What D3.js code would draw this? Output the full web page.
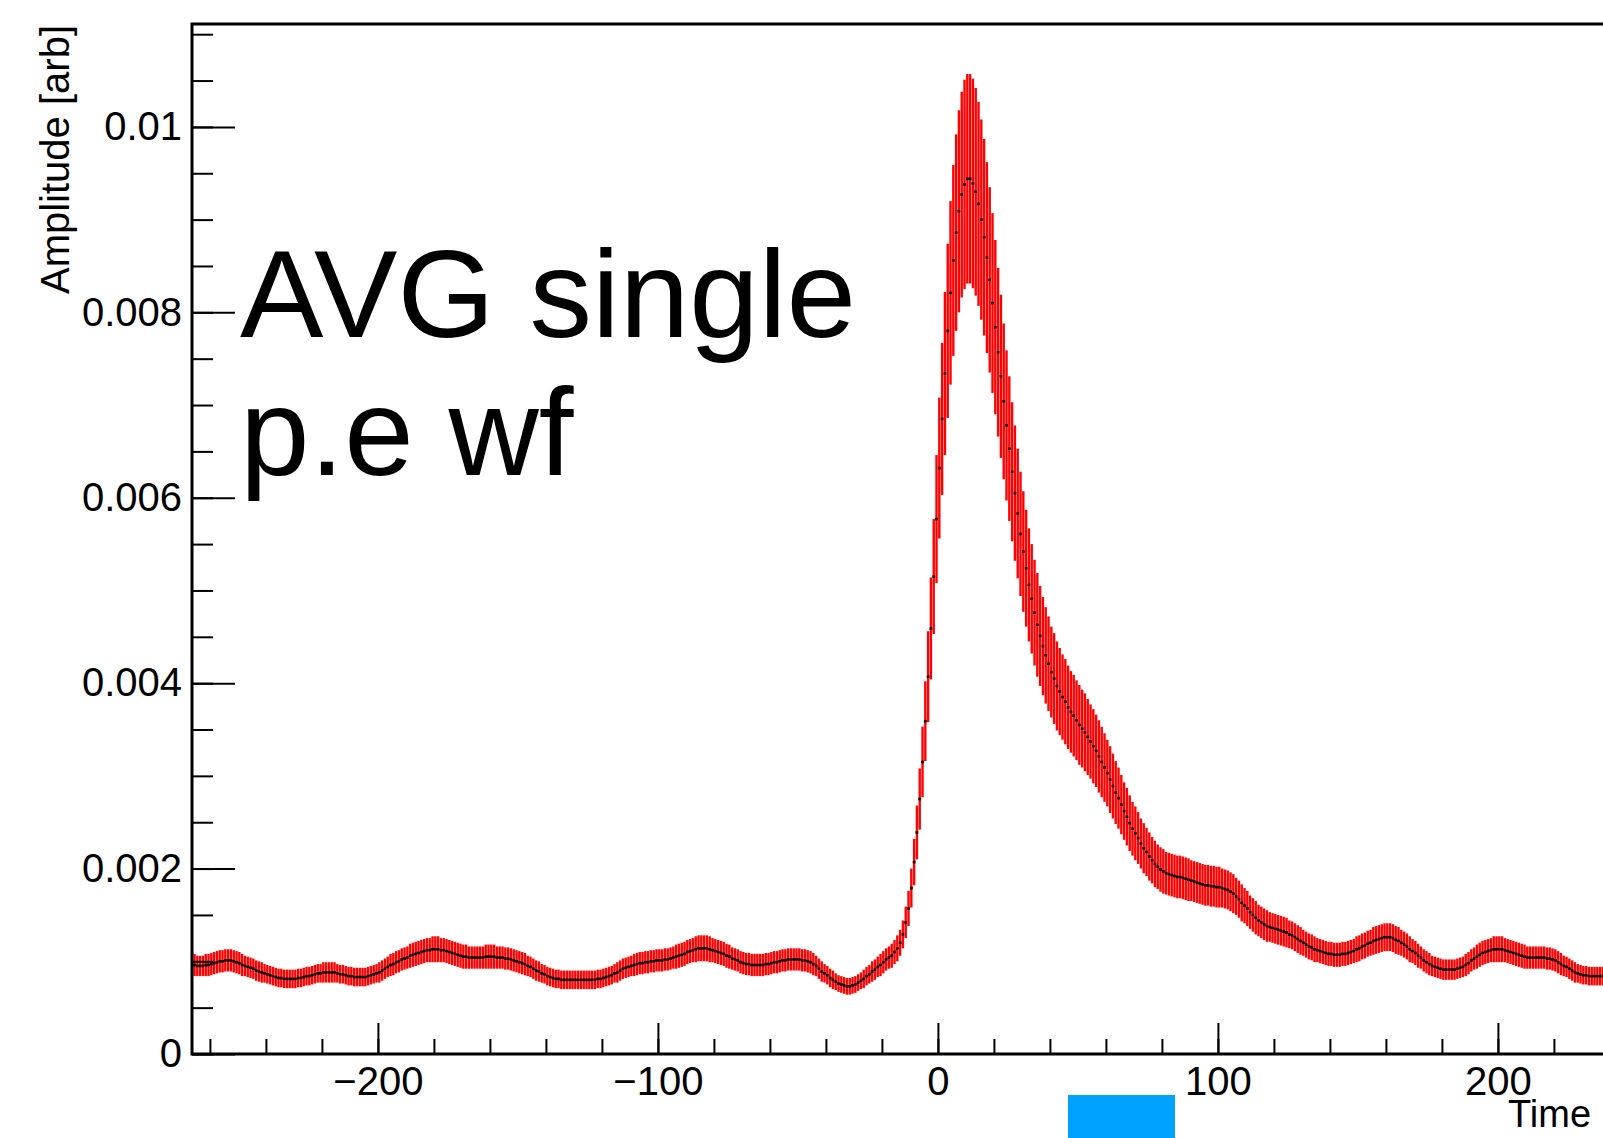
<!DOCTYPE html>
<html>
<head>
<meta charset="utf-8">
<script src="https://cdn.jsdelivr.net/npm/d3@7"></script>
<style>
  html, body { margin: 0; padding: 0; background: #fff; }
  svg { display: block; font-family: "Liberation Sans", Arial, Helvetica, sans-serif; }
  .axis text { font-size: 40px; fill: #000; }
  .axis line { stroke: #000; stroke-width: 2; }
  .axis path { display: none; }
</style>
</head>
<body>
<div id="chart"></div>
<script>
/* ---- data (amplitude in units of 1e-5, one bin per time unit) ---- */
const binLow = -266, binWidth = 1;
const amp = [
  96,95,95,95,96,96,97,98,99,100,
  100,101,101,101,100,99,98,96,95,94,
  93,92,90,89,88,87,86,85,84,83,
  82,82,81,81,81,81,81,82,82,83,
  84,84,85,86,87,87,88,88,88,88,
  88,87,86,86,85,84,84,83,83,83,
  83,83,84,85,86,87,88,90,92,94,
  96,97,99,100,102,103,104,106,107,108,
  109,110,111,112,112,113,113,113,112,112,
  111,110,109,108,107,106,105,105,104,104,
  104,104,104,104,105,105,105,105,104,104,
  104,103,103,102,101,100,99,98,97,95,
  94,92,90,89,87,86,84,83,82,81,
  81,80,80,80,80,80,80,80,80,80,
  80,80,80,80,81,81,82,83,84,85,
  87,88,90,92,93,94,95,96,97,98,
  98,99,99,100,100,101,101,101,102,102,
  103,104,105,106,107,108,110,111,112,113,
  114,114,114,114,113,112,111,110,109,108,
  106,105,103,102,101,99,98,97,97,96,
  96,96,96,96,97,97,98,99,99,100,
  101,101,102,102,102,102,102,101,101,100,
  99,97,95,92,89,87,85,82,80,78,
  76,75,74,73,73,74,75,77,79,81,
  84,86,89,91,94,96,99,102,104,106,
  110,114,120,129,142,157,179,207,239,275,
  315,359,407,459,515,577,632,685,734,780,
  821,856,886,909,927,938,944,944,939,930,
  917,900,881,859,835,810,784,757,731,704,
  678,653,628,605,583,561,542,524,506,491,
  476,463,451,440,430,421,412,405,397,391,
  385,380,374,369,365,360,355,351,347,342,
  337,332,327,321,315,309,303,296,289,282,
  276,269,262,256,249,243,238,233,227,222,
  218,213,209,205,202,199,197,195,194,193,
  192,191,191,190,189,188,187,186,185,184,
  183,182,182,181,181,180,180,179,178,177,
  175,173,170,167,163,160,157,153,150,147,
  144,142,140,138,137,136,135,134,133,132,
  131,129,128,126,124,122,120,118,116,115,
  113,112,111,110,109,108,108,107,107,107,
  108,108,109,110,111,113,114,116,117,119,
  120,122,123,124,125,126,126,126,125,123,
  122,120,118,116,113,111,109,106,104,101,
  99,97,95,94,93,92,91,91,91,91,
  91,92,93,94,96,98,101,103,105,107,
  109,110,111,112,113,113,113,113,112,111,
  110,109,108,107,106,105,104,104,104,104,
  104,104,104,103,103,102,101,99,97,95,
  94,92,90,88,87,86,85,85,84,84,
  84,84,84,84
];
const ampErr = [
  12,11,11,11,12,12,12,12,12,12,
  12,12,12,12,12,12,12,12,11,11,
  11,11,11,11,11,10,10,10,10,10,
  10,10,10,10,10,10,10,10,10,10,
  10,10,10,10,10,10,11,11,11,11,
  11,10,10,10,10,10,10,10,10,10,
  10,10,10,10,10,10,11,11,11,11,
  12,12,12,12,12,12,12,13,13,13,
  13,13,13,13,13,14,14,14,13,13,
  13,13,13,13,13,13,13,13,12,12,
  12,12,12,12,13,13,13,13,12,12,
  12,12,12,12,12,12,12,12,12,11,
  11,11,11,11,10,10,10,10,10,10,
  10,10,10,10,10,10,10,10,10,10,
  10,10,10,10,10,10,10,10,10,10,
  10,11,11,11,11,11,11,12,12,12,
  12,12,12,12,12,12,12,12,12,12,
  12,12,13,13,13,13,13,13,13,14,
  14,14,14,14,14,13,13,13,13,13,
  13,13,12,12,12,12,12,12,12,12,
  12,12,12,12,12,12,12,12,12,12,
  12,12,12,12,12,12,12,12,12,12,
  12,12,11,11,11,10,10,10,10,9,
  9,9,9,9,9,9,9,9,9,10,
  10,10,11,11,11,12,12,12,12,13,
  13,14,14,15,17,19,21,25,29,33,
  38,43,49,55,62,69,76,82,88,94,
  99,103,106,109,111,113,113,113,113,112,
  110,108,106,103,100,97,94,91,88,84,
  81,78,75,73,70,67,65,63,61,59,
  57,56,54,53,52,51,49,49,48,47,
  46,46,45,44,44,43,43,42,42,41,
  40,40,39,39,38,37,36,36,35,34,
  33,32,31,31,30,29,29,28,27,27,
  26,26,25,25,24,24,24,23,23,23,
  23,23,23,23,23,23,22,22,22,22,
  22,22,22,22,22,22,22,21,21,21,
  21,21,20,20,20,19,19,18,18,18,
  17,17,17,17,16,16,16,16,16,16,
  16,15,15,15,15,15,14,14,14,14,
  14,13,13,13,13,13,13,13,13,13,
  13,13,13,13,13,14,14,14,14,14,
  14,15,15,15,15,15,15,15,15,15,
  15,14,14,14,14,13,13,13,12,12,
  12,12,11,11,11,11,11,11,11,11,
  11,11,11,11,12,12,12,12,13,13,
  13,13,13,13,14,14,14,14,13,13,
  13,13,13,13,13,13,12,12,12,12,
  12,12,12,12,12,12,12,12,12,11,
  11,11,11,11,10,10,10,10,10,10,
  10,10,10,10
];
const ampUnit = 1e-5;
const yMajorTicks = [0, 0.002, 0.004, 0.006, 0.008, 0.01];
const xMajorTicks = [-200, -100, 0, 100, 200];
const yTitle = "Amplitude [arb]";
const xTitle = "Time";
const noteLines = ["AVG single", "p.e wf"];

/* ---- layout ---- */
const W = 1603, H = 1138;
const plot = { left: 192, top: 24, bottom: 1054 };

const svg = d3.select('#chart').append('svg').attr('width', W).attr('height', H);
svg.append('rect').attr('width', W).attr('height', H).attr('fill', '#fff');

const x = d3.scaleLinear().domain([-266.4, 266.4]).range([plot.left, plot.left + 532.8 * 2.8]);
const y = d3.scaleLinear().domain([0, 0.01111]).range([plot.bottom, plot.top]);

const bins = amp.map((v, i) => ({
  t: binLow + (i + 0.5) * binWidth,
  v: v * ampUnit,
  e: ampErr[i] * ampUnit
}));

svg.append('clipPath').attr('id', 'clip').append('rect')
  .attr('x', plot.left).attr('y', plot.top).attr('width', W - plot.left).attr('height', plot.bottom - plot.top);

const dataG = svg.append('g').attr('clip-path', 'url(#clip)');

/* error bars */
dataG.append('g').selectAll('line').data(bins).join('line')
  .attr('x1', d => x(d.t)).attr('x2', d => x(d.t))
  .attr('y1', d => y(d.v + d.e)).attr('y2', d => y(d.v - d.e))
  .attr('stroke', '#ff0000').attr('stroke-width', 2.4);

/* markers */
dataG.append('g').selectAll('rect').data(bins).join('rect')
  .attr('x', d => x(d.t) - 1.4).attr('y', d => y(d.v) - 1.3)
  .attr('width', 2.8).attr('height', 2.6)
  .attr('fill', '#000');

/* ---- axes (ROOT style, ticks inside) ---- */
const yMinor = d3.range(0, 23).map(i => i * 0.0005);
const xMinor = d3.range(-260, 280, 20);

svg.append('g').attr('class', 'axis')
  .attr('transform', `translate(${plot.left},0)`)
  .call(d3.axisLeft(y).tickValues(yMinor).tickSize(-21).tickFormat(''));
svg.append('g').attr('class', 'axis')
  .attr('transform', `translate(${plot.left},0)`)
  .call(d3.axisLeft(y).tickValues(yMajorTicks).tickSize(-43).tickPadding(10)
    .tickFormat(d => d === 0 ? '0' : String(+d.toFixed(4))));

svg.append('g').attr('class', 'axis')
  .attr('transform', `translate(0,${plot.bottom})`)
  .call(d3.axisBottom(x).tickValues(xMinor).tickSize(-15).tickFormat(''));
svg.append('g').attr('class', 'axis')
  .attr('transform', `translate(0,${plot.bottom})`)
  .call(d3.axisBottom(x).tickValues(xMajorTicks).tickSize(-31).tickPadding(13)
    .tickFormat(d3.format('d')));

/* frame */
svg.append('path')
  .attr('d', `M${W + 5},${plot.top}H${plot.left}V${plot.bottom}H${W + 5}`)
  .attr('fill', 'none').attr('stroke', '#000').attr('stroke-width', 3);

/* titles */
svg.append('text')
  .attr('transform', 'translate(69,25) rotate(-90)')
  .attr('text-anchor', 'end')
  .style('font-size', '40px')
  .text(yTitle);

svg.append('text')
  .attr('x', 1508).attr('y', 1127)
  .style('font-size', '38px')
  .text(xTitle);

/* big annotation */
noteLines.forEach((line, i) => {
  svg.append('text')
    .attr('x', 240).attr('y', 337 + i * 138)
    .style('font-size', '125px')
    .text(line);
});

/* fragment of a blue box below the axis */
svg.append('rect')
  .attr('x', 1068).attr('y', 1095).attr('width', 107).attr('height', 43)
  .attr('fill', '#00a2ff');
</script>
</body>
</html>
